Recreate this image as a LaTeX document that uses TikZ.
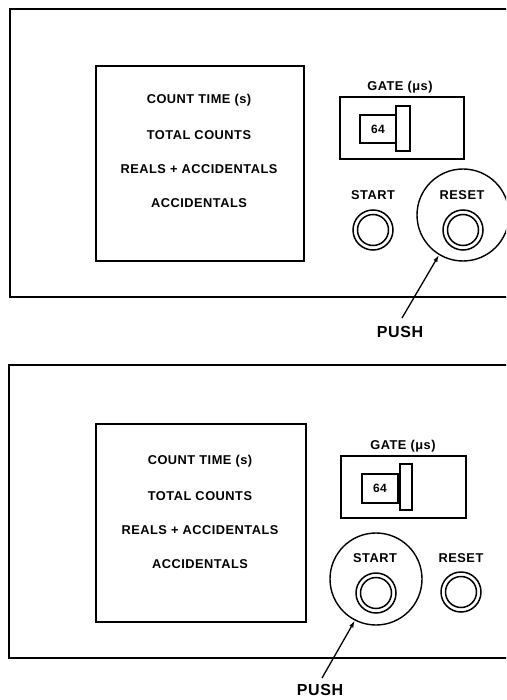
\documentclass[tikz,border=0pt]{standalone}
\usepackage{fontspec}
\setmainfont{Liberation Sans}
\newfontfamily\labelfont{Liberation Sans}[LetterSpace=4]
\usetikzlibrary{arrows.meta}
\begin{document}
\begin{tikzpicture}[x=1pt,y=-1pt,
  frame/.style={line width=1.4pt},
  display/.style={line width=1.7pt},
  lbl/.style={font=\labelfont\bfseries\fontsize{12.8}{14}\selectfont, inner sep=0pt},
  smalllbl/.style={font=\labelfont\bfseries\fontsize{12}{13}\selectfont, inner sep=0pt},
  pushlbl/.style={font=\labelfont\bfseries\fontsize{16}{18}\selectfont, inner sep=0pt},
  btnouter/.style={circle, draw, line width=1.5pt, minimum size=40pt, inner sep=0pt},
  btninner/.style={circle, draw, line width=1.5pt, minimum size=31pt, inner sep=0pt},
  halo/.style={circle, draw, line width=1.4pt, minimum size=92pt, inner sep=0pt},
  pusharrow/.style={line width=1.3pt, -{Latex[length=7pt,width=4.5pt]}}
]
\useasboundingbox (0,0) rectangle (506,700);
\clip (0,0) rectangle (506,700);
\fill[white] (0,0) rectangle (506,700);

% ---------- top panel ----------
\draw[frame] (520,9) -- (10,9) -- (10,297) -- (520,297);
\draw[display] (96,66) rectangle (304,261);
\node[lbl] (t1) at (199,100) {COUNT TIME (s)};
\node[lbl] (t2) at (199,135) {TOTAL COUNTS};
\node[lbl] (t3) at (199,169) {REALS + ACCIDENTALS};
\node[lbl] (t4) at (199,203) {ACCIDENTALS};
\node[lbl] (gate1) at (400,87) {GATE (μs)};
\draw[display] (340,97) rectangle (464,159);
\draw[display] (360,115) rectangle (397,143);
\node[smalllbl] (sf1) at (378,129) {64};
\draw[display, fill=white] (396,106) rectangle (410,151);
\node[lbl] (st1) at (373,195) {START};
\node[btnouter] (sb1o) at (373,230) {};
\node[btninner] (sb1i) at (373,230) {};
\node[lbl] (rs1) at (462,195) {RESET};
\node[btnouter] (rb1o) at (463,230) {};
\node[btninner] (rb1i) at (463,230) {};
\node[halo] (h1) at (463,215) {};
\node[pushlbl] (p1) at (400,332) {PUSH};
\coordinate (p1s) at (402,318);
\draw[pusharrow] (p1s) -- (h1.239);

% ---------- bottom panel ----------
\draw[frame] (520,365) -- (9,365) -- (9,658) -- (520,658);
\draw[display] (96,424) rectangle (306,622);
\node[lbl] (b1) at (200,461) {COUNT TIME (s)};
\node[lbl] (b2) at (200,496) {TOTAL COUNTS};
\node[lbl] (b3) at (200,530) {REALS + ACCIDENTALS};
\node[lbl] (b4) at (200,564) {ACCIDENTALS};
\node[lbl] (gate2) at (403,446) {GATE (μs)};
\draw[display] (341,456) rectangle (466,518);
\draw[display] (362,474) rectangle (398,503);
\node[smalllbl] (sf2) at (380,488) {64};
\draw[display, fill=white] (400,464) rectangle (412,510);
\node[lbl] (st2) at (375,558) {START};
\node[btnouter] (sb2o) at (376,593) {};
\node[btninner] (sb2i) at (376,593) {};
\node[lbl] (rs2) at (461,558) {RESET};
\node[btnouter] (rb2o) at (461,592) {};
\node[btninner] (rb2i) at (461,592) {};
\node[halo] (h2) at (376,579) {};
\node[pushlbl] (p2) at (320,690) {PUSH};
\coordinate (p2s) at (322,678);
\draw[pusharrow] (p2s) -- (h2.243);
\end{tikzpicture}
\end{document}
